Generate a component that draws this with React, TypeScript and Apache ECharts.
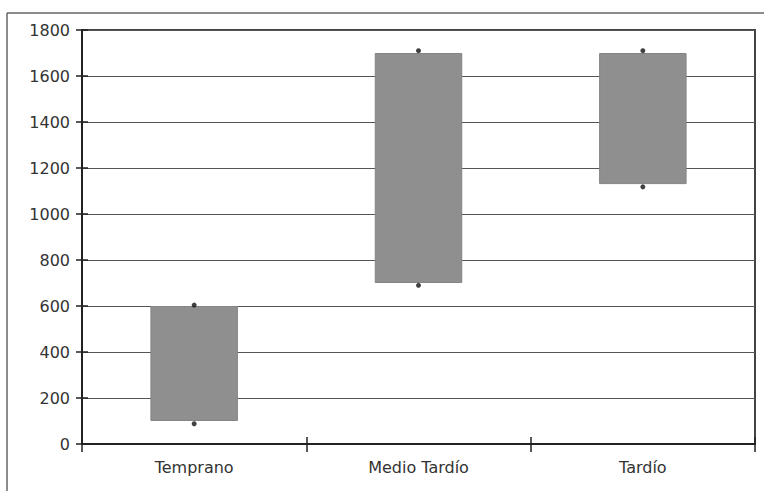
import React, { useEffect, useRef } from "react";
import * as echarts from "echarts";

const categories = ["Temprano", "Medio Tardío", "Tardío"];
const lowValues = [100, 700, 1130];
const highValues = [600, 1700, 1700];
const lowDots = [88, 690, 1118];
const highDots = [604, 1710, 1710];
const yTicks = { min: 0, max: 1800, interval: 200 };

export default function App() {
  const ref = useRef<HTMLDivElement>(null);
  useEffect(() => {
    if (!ref.current) return;
    const chart = echarts.init(ref.current, undefined, { renderer: "svg" });
    const rangeValues = highValues.map((h, i) => h - lowValues[i]);
    const font = "'DejaVu Sans', sans-serif";
    const W = 764, H = 491;
    const gridPos = { left: 82, top: 30, right: 9, bottom: 47 };
    const plotW = W - gridPos.left - gridPos.right;
    const plotH = H - gridPos.top - gridPos.bottom;
    chart.setOption({
      animation: false,
      backgroundColor: "#ffffff",
      grid: { ...gridPos, show: true, borderColor: "#444", borderWidth: 2, backgroundColor: "transparent" },
      xAxis: [
        {
          type: "category",
          data: categories,
          position: "bottom",
          axisLine: { show: true, lineStyle: { color: "#222", width: 2 } },
          axisTick: { show: true, inside: false, length: 8, lineStyle: { color: "#222", width: 1.5 } },
          axisLabel: { color: "#333", fontSize: 16, fontFamily: font, margin: 15 },
          splitLine: { show: false },
        },
        {
          type: "category",
          data: categories,
          position: "top",
          offset: -plotH,
          axisLine: { show: true, onZero: false, lineStyle: { color: "#222", width: 2, opacity: 0 } },
          axisTick: { show: true, inside: false, length: 7, lineStyle: { color: "#222", width: 1.5, opacity: 1 } },
          axisLabel: { show: false },
          splitLine: { show: false },
        },
      ],
      yAxis: [
        {
          type: "value",
          min: yTicks.min,
          max: yTicks.max,
          interval: yTicks.interval,
          position: "left",
          axisLine: { show: true, lineStyle: { color: "#222", width: 2 } },
          axisTick: { show: true, inside: false, length: 6, lineStyle: { color: "#222", width: 1.5 } },
          axisLabel: { color: "#333", fontSize: 16, fontFamily: font, margin: 12, formatter: (v: number) => String(v) },
          splitLine: { show: true, lineStyle: { color: "#555", width: 1.2 } },
        },
        {
          type: "value",
          min: yTicks.min,
          max: yTicks.max,
          interval: yTicks.interval,
          position: "right",
          offset: -plotW,
          axisLine: { show: true, onZero: false, lineStyle: { color: "#222", width: 2, opacity: 0 } },
          axisTick: { show: true, inside: false, length: 6, lineStyle: { color: "#222", width: 1.5, opacity: 1 } },
          axisLabel: { show: false },
          splitLine: { show: false },
        },
      ],
      series: [
        {
          type: "bar",
          stack: "range",
          data: lowValues,
          barWidth: "39%",
          itemStyle: { color: "transparent" },
          silent: true,
          z: 3,
        },
        {
          type: "bar",
          stack: "range",
          data: rangeValues,
          barWidth: "39%",
          itemStyle: { color: "#8f8f8f", borderColor: "#858585", borderWidth: 1 },
          z: 3,
        },
        {
          type: "scatter",
          xAxisIndex: 1,
          yAxisIndex: 1,
          data: categories.map((c, i) => [c, lowDots[i]]),
          symbolSize: 5,
          itemStyle: { color: "#111" },
          z: 4,
        },
        {
          type: "scatter",
          xAxisIndex: 1,
          yAxisIndex: 1,
          data: categories.map((c, i) => [c, highDots[i]]),
          symbolSize: 5,
          itemStyle: { color: "#111" },
          z: 4,
        },
      ],
      graphic: [
        { type: "line", shape: { x1: 7, y1: 13, x2: 764, y2: 13 }, style: { stroke: "#666", lineWidth: 1.5 } },
        { type: "line", shape: { x1: 7, y1: 13, x2: 7, y2: 491 }, style: { stroke: "#666", lineWidth: 1.5 } },
      ],
    });
    return () => chart.dispose();
  }, []);
  return <div ref={ref} style={{ width: 764, height: 491, position: "absolute", left: 0, top: 0 }} />;
}
